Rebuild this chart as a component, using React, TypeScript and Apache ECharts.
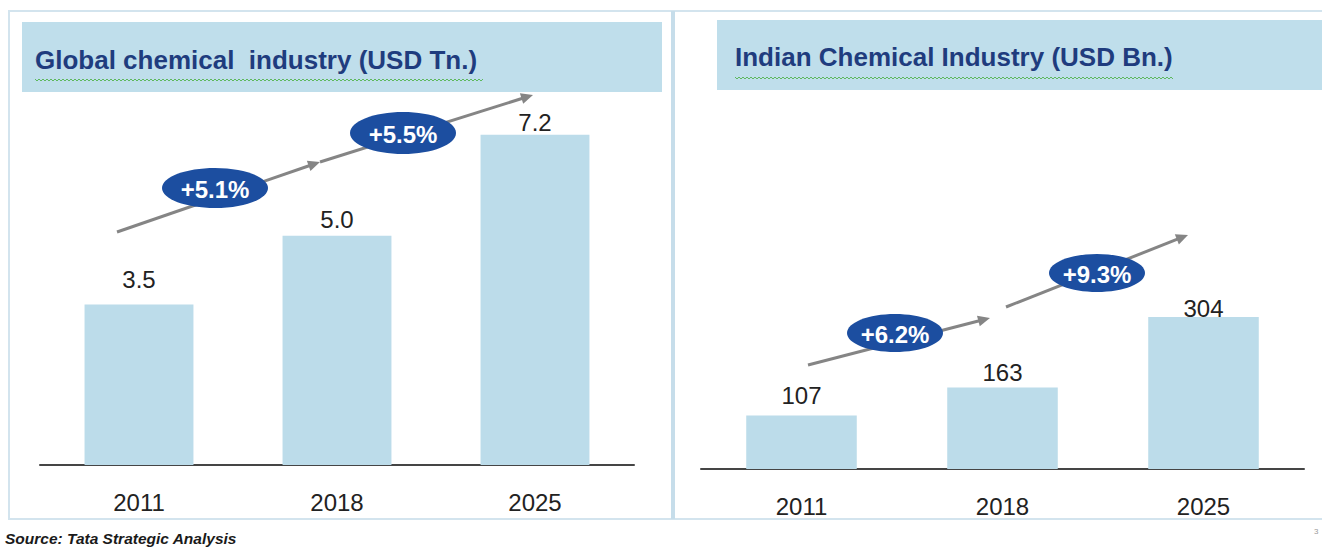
import React, { useEffect, useRef } from "react";
import * as echarts from "echarts";

const categories = ["2011", "2018", "2025"];
const globalValues = [3.5, 5.0, 7.2];
const indiaValues = [107, 163, 304];
const globalCagr = ["+5.1%", "+5.5%"];
const indiaCagr = ["+6.2%", "+9.3%"];
const globalTitle = "Global chemical  industry (USD Tn.)";
const indiaTitle = "Indian Chemical Industry (USD Bn.)";
const sourceText = "Source: Tata Strategic Analysis";

// label gaps above each bar (styling, as placed in the original slide)
const globalLabelGap = [13, 4, 0];
const indiaLabelGap = [8, 3, -3];

const FONT = "'Liberation Sans', Arial, sans-serif";
const BAR = "#BCDCEA";
const TITLE_BG = "#BFDEEB";
const TITLE_FG = "#1F3C7E";
const OVAL = "#1C4EA0";
const ARROW = "#858585";

function arrow(x1: number, y1: number, x2: number, y2: number) {
  const dx = x2 - x1;
  const dy = y2 - y1;
  const len = Math.sqrt(dx * dx + dy * dy);
  const ux = dx / len;
  const uy = dy / len;
  const hl = 12;
  const hw = 5.5;
  const bx = x2 - ux * hl;
  const by = y2 - uy * hl;
  return [
    {
      type: "line",
      z: 20,
      shape: { x1, y1, x2: bx + ux * 2, y2: by + uy * 2 },
      style: { stroke: ARROW, lineWidth: 3 },
    },
    {
      type: "polygon",
      z: 20,
      shape: {
        points: [
          [x2, y2],
          [bx - uy * hw, by + ux * hw],
          [bx + uy * hw, by - ux * hw],
        ],
      },
      style: { fill: ARROW },
    },
  ];
}

function oval(cx: number, cy: number, rx: number, ry: number, text: string) {
  return [
    {
      type: "ellipse",
      z: 30,
      shape: { cx, cy, rx, ry },
      style: { fill: OVAL },
    },
    {
      type: "text",
      z: 31,
      style: {
        text,
        x: cx,
        y: cy + 1,
        fill: "#ffffff",
        font: `bold 24px ${FONT}`,
        textAlign: "center",
        textVerticalAlign: "middle",
        verticalAlign: "middle",
      },
    },
  ];
}

function squiggle(x0: number, x1: number, y: number) {
  const pts: number[][] = [];
  let up = true;
  for (let x = x0; x <= x1; x += 2) {
    pts.push([x, y + (up ? -1 : 1)]);
    up = !up;
  }
  return {
    type: "polyline",
    z: 6,
    shape: { points: pts },
    style: { stroke: "#5DB85D", lineWidth: 1, fill: null },
  };
}

export default function App() {
  const ref = useRef<HTMLDivElement>(null);
  useEffect(() => {
    if (!ref.current) return;
    const chart = echarts.init(ref.current, null, { renderer: "svg" });
    const axisCommon = {
      type: "category" as const,
      data: categories,
      axisLine: { show: true, lineStyle: { color: "#454545", width: 2 } },
      axisTick: { show: false },
      axisLabel: { color: "#222222", fontSize: 24, fontFamily: FONT, margin: 25 },
    };
    const yCommon = {
      type: "value" as const,
      min: 0,
      splitLine: { show: false },
      axisLine: { show: false },
      axisTick: { show: false },
      axisLabel: { show: false },
    };
    const labelCommon = {
      show: true,
      position: "top",
      color: "#222222",
      fontSize: 24,
      fontFamily: FONT,
    };
    chart.setOption({
      animation: false,
      backgroundColor: "#ffffff",
      grid: [
        { left: 40, width: 594, top: 98, bottom: 82 },
        { left: 701, width: 603, top: 169, bottom: 78 },
      ],
      xAxis: [
        { ...axisCommon, gridIndex: 0 },
        { ...axisCommon, gridIndex: 1 },
      ],
      yAxis: [
        { ...yCommon, gridIndex: 0, max: 8 },
        { ...yCommon, gridIndex: 1, max: 600 },
      ],
      series: [
        {
          type: "bar",
          xAxisIndex: 0,
          yAxisIndex: 0,
          data: globalValues.map((v, i) => ({
            value: v,
            label: { distance: globalLabelGap[i] },
          })),
          barCategoryGap: "45%",
          itemStyle: { color: BAR },
          label: {
            ...labelCommon,
            formatter: (p: any) => Number(p.value).toFixed(1),
          },
        },
        {
          type: "bar",
          xAxisIndex: 1,
          yAxisIndex: 1,
          data: indiaValues.map((v, i) => ({
            value: v,
            label: { distance: indiaLabelGap[i] },
          })),
          barCategoryGap: "45%",
          itemStyle: { color: BAR },
          label: { ...labelCommon },
        },
      ],
      graphic: [
        {
          type: "rect",
          z: 1,
          shape: { x: 9, y: 11, width: 1330, height: 508 },
          style: { fill: null, stroke: "#D3E4EE", lineWidth: 2 },
        },
        {
          type: "line",
          z: 1,
          shape: { x1: 673, y1: 11, x2: 673, y2: 519 },
          style: { stroke: "#C6DDEA", lineWidth: 4 },
        },
        {
          type: "rect",
          z: 2,
          shape: { x: 22, y: 22, width: 640, height: 70 },
          style: { fill: TITLE_BG },
        },
        {
          type: "rect",
          z: 2,
          shape: { x: 717, y: 20, width: 620, height: 70 },
          style: { fill: TITLE_BG },
        },
        {
          type: "text",
          z: 5,
          style: {
            text: globalTitle,
            x: 35,
            y: 60,
            fill: TITLE_FG,
            font: `bold 26px ${FONT}`,
            textVerticalAlign: "middle",
            verticalAlign: "middle",
          },
        },
        squiggle(35, 483, 80),
        {
          type: "text",
          z: 5,
          style: {
            text: indiaTitle,
            x: 735,
            y: 57,
            fill: TITLE_FG,
            font: `bold 26px ${FONT}`,
            textVerticalAlign: "middle",
            verticalAlign: "middle",
          },
        },
        squiggle(735, 1173, 78),
        ...arrow(117, 232, 320, 162),
        ...arrow(320, 162, 533, 95),
        ...arrow(808, 365, 990, 318),
        ...arrow(1006, 307, 1188, 235),
        ...oval(215, 188, 53, 20, globalCagr[0]),
        ...oval(403, 133, 53, 21, globalCagr[1]),
        ...oval(895, 333, 48, 19, indiaCagr[0]),
        ...oval(1097, 273, 48, 19, indiaCagr[1]),
        {
          type: "text",
          z: 5,
          style: {
            text: sourceText,
            x: 5,
            y: 538,
            fill: "#1a1a1a",
            font: `italic bold 15.5px ${FONT}`,
            textVerticalAlign: "middle",
            verticalAlign: "middle",
          },
        },
        {
          type: "text",
          z: 5,
          style: {
            text: "3",
            x: 1314,
            y: 531,
            fill: "#9a9a9a",
            font: `8px ${FONT}`,
            textVerticalAlign: "middle",
            verticalAlign: "middle",
          },
        },
      ],
    });
    return () => chart.dispose();
  }, []);
  return (
    <div
      ref={ref}
      style={{ position: "fixed", left: 0, top: 0, width: 1322, height: 547 }}
    />
  );
}
